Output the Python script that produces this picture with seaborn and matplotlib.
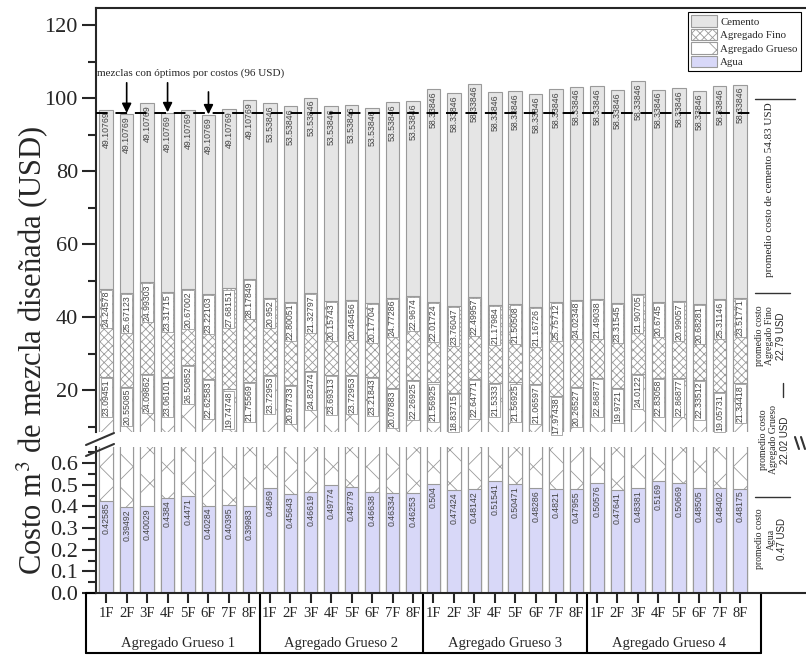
import matplotlib
matplotlib.use("Agg")
import numpy as np
import pandas as pd
import matplotlib.pyplot as plt
import seaborn as sns
from matplotlib.patches import Patch
from matplotlib.lines import Line2D
import matplotlib.transforms as mtransforms
from matplotlib.ticker import MultipleLocator, FormatStrFormatter

# ---------------- data ----------------
groups = ["Agregado Grueso 1", "Agregado Grueso 2", "Agregado Grueso 3", "Agregado Grueso 4"]
mixes = ["1F", "2F", "3F", "4F", "5F", "6F", "7F", "8F"]

agua = [0.42585, 0.39492, 0.40029, 0.4384, 0.4471, 0.40284, 0.40395, 0.39983,
        0.4869, 0.45643, 0.46619, 0.49774, 0.48779, 0.46638, 0.46334, 0.46253,
        0.504, 0.47424, 0.48142, 0.51541, 0.50471, 0.48286, 0.4821, 0.47955,
        0.50576, 0.47641, 0.48381, 0.5169, 0.50669, 0.48505, 0.48402, 0.48175]
grueso = [23.09451, 20.55085, 24.09862, 23.06101, 26.50852, 22.62583, 19.74748, 21.75569,
          23.72953, 20.97733, 24.82474, 23.69313, 23.72953, 23.21843, 20.07883, 22.26925,
          21.56925, 18.83715, 22.64771, 21.5333, 21.56925, 21.06597, 17.97438, 20.26527,
          22.86877, 19.9721, 24.0122, 22.83058, 22.86877, 22.33512, 19.05731, 21.34418]
fino = [24.24578, 25.67123, 24.99303, 23.31715, 20.67002, 23.22103, 27.68151, 28.17849,
        20.952, 22.80051, 21.32797, 20.15743, 20.46456, 20.17704, 24.77286, 22.9674,
        22.01724, 23.76047, 22.49957, 21.17984, 21.50508, 21.16726, 25.75712, 24.02348,
        21.49038, 23.31545, 21.90705, 20.6745, 20.99057, 20.68281, 25.31146, 23.51771]
cemento = [49.10769, 49.10769, 49.10769, 49.10769, 49.10769, 49.10769, 49.10769, 49.10769,
           53.53846, 53.53846, 53.53846, 53.53846, 53.53846, 53.53846, 53.53846, 53.53846,
           58.33846, 58.33846, 58.33846, 58.33846, 58.33846, 58.33846, 58.33846, 58.33846,
           58.33846, 58.33846, 58.33846, 58.33846, 58.33846, 58.33846, 58.33846, 58.33846]

optimos = ["Agregado Grueso 1-2F", "Agregado Grueso 1-4F", "Agregado Grueso 1-6F"]
linea_optimo = 96

ids = [f"{g}-{m}" for g in groups for m in mixes]
df = pd.DataFrame({"id": ids, "agua": agua, "grueso": grueso, "fino": fino, "cemento": cemento})
df["c1"] = df["agua"]
df["c2"] = df["c1"] + df["grueso"]
df["c3"] = df["c2"] + df["fino"]
df["c4"] = df["c3"] + df["cemento"]

# ---------------- style ----------------
sns.set_style("ticks")
plt.rcParams["font.family"] = ["Liberation Serif", "DejaVu Serif"]
plt.rcParams["mathtext.fontset"] = "stix"
plt.rcParams["hatch.linewidth"] = 0.6
plt.rcParams["axes.linewidth"] = 1.5

EC = "#9a9a9a"
C_CEM = "#e5e5e5"
C_AGUA = "#d8d8f8"
TXT = "#444444"
SANS = "Liberation Sans"

W, H = 806, 656
fig = plt.figure(figsize=(W / 100, H / 100), dpi=100)

def fx(x):
    return x / W

def fy(y):
    return 1 - y / H

ax_up = fig.add_axes([fx(96), fy(432), fx(806) - fx(96), fy(8) - fy(432)])
ax_lo = fig.add_axes([fx(96), fy(593), fx(806) - fx(96), fy(447) - fy(593)])

layers = [("c4", C_CEM, None), ("c3", "white", "xxxx"), ("c2", "white", "x"), ("c1", C_AGUA, None)]
for ax in (ax_up, ax_lo):
    for col, fc, hatch in layers:
        kw = {}
        if hatch:
            kw["hatch"] = hatch
        sns.barplot(data=df, x="id", y=col, order=ids, color=fc, saturation=1,
                    width=0.66, edgecolor=EC, linewidth=0.8, errorbar=None, ax=ax, **kw)
    ax.set_xlabel("")
    ax.set_ylabel("")
    ax.set_xlim(-0.5, 34.22)
    for s in ax.spines.values():
        s.set_linewidth(1.5)
    ax.spines["right"].set_visible(False)

ax_up.set_ylim(8.5, 124.7)
ax_lo.set_ylim(0, 0.674)
ax_up.spines["bottom"].set_visible(False)
ax_lo.spines["top"].set_visible(False)
ax_up.tick_params(axis="x", bottom=False, labelbottom=False)

ax_up.yaxis.set_major_locator(MultipleLocator(20))
ax_up.yaxis.set_minor_locator(MultipleLocator(10))
ax_up.yaxis.set_major_formatter(FormatStrFormatter("%d"))
ax_lo.yaxis.set_major_locator(MultipleLocator(0.1))
ax_lo.yaxis.set_minor_locator(MultipleLocator(0.05))
ax_lo.yaxis.set_major_formatter(FormatStrFormatter("%.1f"))
for ax in (ax_up, ax_lo):
    ax.tick_params(axis="y", which="major", length=10, width=1.5, labelsize=16, direction="out", pad=3)
    ax.tick_params(axis="y", which="minor", length=6, width=1.5, direction="out")

ax_lo.set_xticks(range(len(ids)))
ax_lo.set_xticklabels([m for g in groups for m in mixes], fontsize=10.5)
ax_lo.tick_params(axis="x", length=7, width=1.5, direction="out", pad=3)

# ---------------- value labels ----------------
lab = dict(rotation=90, ha="center", va="top", fontsize=6.3, color=TXT, family=SANS,
           textcoords="offset points", xytext=(0, -1.5))
box = dict(boxstyle="square,pad=0.12", fc="white", ec="#8a8a8a", lw=0.5)
for i in range(len(ids)):
    ax_lo.annotate(str(agua[i]), xy=(i, df["c1"][i]), **lab)
    ax_up.annotate(str(grueso[i]), xy=(i, df["c2"][i]), bbox=box, **lab)
    ax_up.annotate(str(fino[i]), xy=(i, df["c3"][i]), bbox=box, **lab)
    ax_up.annotate(str(cemento[i]), xy=(i, df["c4"][i]), **lab)

# ---------------- dashed optimum line, arrows, note ----------------
ax_up.plot([-0.5, 31.7], [linea_optimo, linea_optimo], color="black", lw=1.4,
           linestyle=(0, (6, 4)), zorder=5)
for k, name in enumerate(optimos):
    i = ids.index(name)
    top = 104.2 if k < 2 else 101.7
    ax_up.annotate("", xy=(i, df["c4"][i] + 0.2), xytext=(i, top),
                   arrowprops=dict(arrowstyle="-|>", color="black", lw=1.2,
                                   mutation_scale=14, shrinkA=0, shrinkB=0), zorder=6)
ax_up.text(-0.45, 106.8, "mezclas con óptimos por costos (96 USD)", fontsize=8,
           ha="left", va="center")

# ---------------- right side annotations ----------------
def fline(xs, ys, lw=1.0):
    fig.add_artist(Line2D([fx(x) for x in xs], [fy(y) for y in ys],
                          transform=fig.transFigure, color="#333333", lw=lw))

fline([755, 795], [99, 99])
fline([755, 790], [293, 293])
fline([783, 783], [383, 397])
fline([755, 790], [497, 497])

fig.text(fx(769), fy(190), "promedio costo de cemento 54.83 USD", rotation=90,
         ha="center", va="center", fontsize=8)

def block(xs, yc, l1, l2, l3):
    fig.text(fx(xs[0]), fy(yc), l1, rotation=90, ha="center", va="center", fontsize=7)
    fig.text(fx(xs[1]), fy(yc), l2, rotation=90, ha="center", va="center", fontsize=7)
    fig.text(fx(xs[2]), fy(yc), l3, rotation=90, ha="center", va="center", fontsize=7,
             family=SANS)

block((759, 770, 781), 336, "promedio costo", "Agregado Fino", "22.79 USD")
block((763, 774, 785), 440, "promedio costo", "Agregado Grueso", "22.02 USD")
block((760, 771, 782), 539, "promedio costo", "Agua", "0.47 USD")

# ---------------- axis break marks ----------------
fline([86, 114], [445, 433], lw=1.5)
fline([86, 114], [456, 444], lw=1.5)
fline([795, 799], [437, 449], lw=1.5)
fline([801, 805], [437, 449], lw=1.5)

# ---------------- group boxes under x axis ----------------
tr = mtransforms.blended_transform_factory(ax_lo.transData, fig.transFigure)
yb_top, yb_bot = fy(593), fy(653)
for xv in (-1, 7.5, 15.5, 23.5, 32):
    ax_lo.add_line(Line2D([xv, xv], [yb_top, yb_bot], transform=tr, color="black",
                          lw=1.5, clip_on=False))
ax_lo.add_line(Line2D([-1, 32], [yb_bot, yb_bot], transform=tr, color="black", lw=1.5, clip_on=False))
ax_lo.add_line(Line2D([-1, -0.5], [yb_top, yb_top], transform=tr, color="black", lw=1.5, clip_on=False))
for k, g in enumerate(groups):
    ax_lo.text(k * 8 + 3.5, fy(643), g, transform=tr, ha="center", va="center", fontsize=10.5)

# ---------------- y label ----------------
fig.text(fx(32), fy(350), "Costo m$^3$ de mezcla diseñada (USD)", rotation=90,
         ha="center", va="center", fontsize=22)

# ---------------- legend ----------------
handles = [Patch(facecolor=C_CEM, edgecolor=EC, lw=0.8),
           Patch(facecolor="white", edgecolor=EC, hatch="xxxx", lw=0.8),
           Patch(facecolor="white", edgecolor=EC, hatch="x", lw=0.8),
           Patch(facecolor=C_AGUA, edgecolor=EC, lw=0.8)]
leg = fig.legend(handles, ["Cemento", "Agregado Fino", "Agregado Grueso", "Agua"],
                 loc="upper right", bbox_to_anchor=(fx(801), fy(12)),
                 bbox_transform=fig.transFigure, fontsize=7.8, frameon=True,
                 fancybox=False, shadow=False, borderpad=0.3, handlelength=2.4,
                 handleheight=1.3, labelspacing=0.15, handletextpad=0.3, borderaxespad=0)
leg.get_frame().set_edgecolor("black")
leg.get_frame().set_linewidth(0.8)
leg.get_frame().set_alpha(1)

fig.savefig("out.png", dpi=100)
